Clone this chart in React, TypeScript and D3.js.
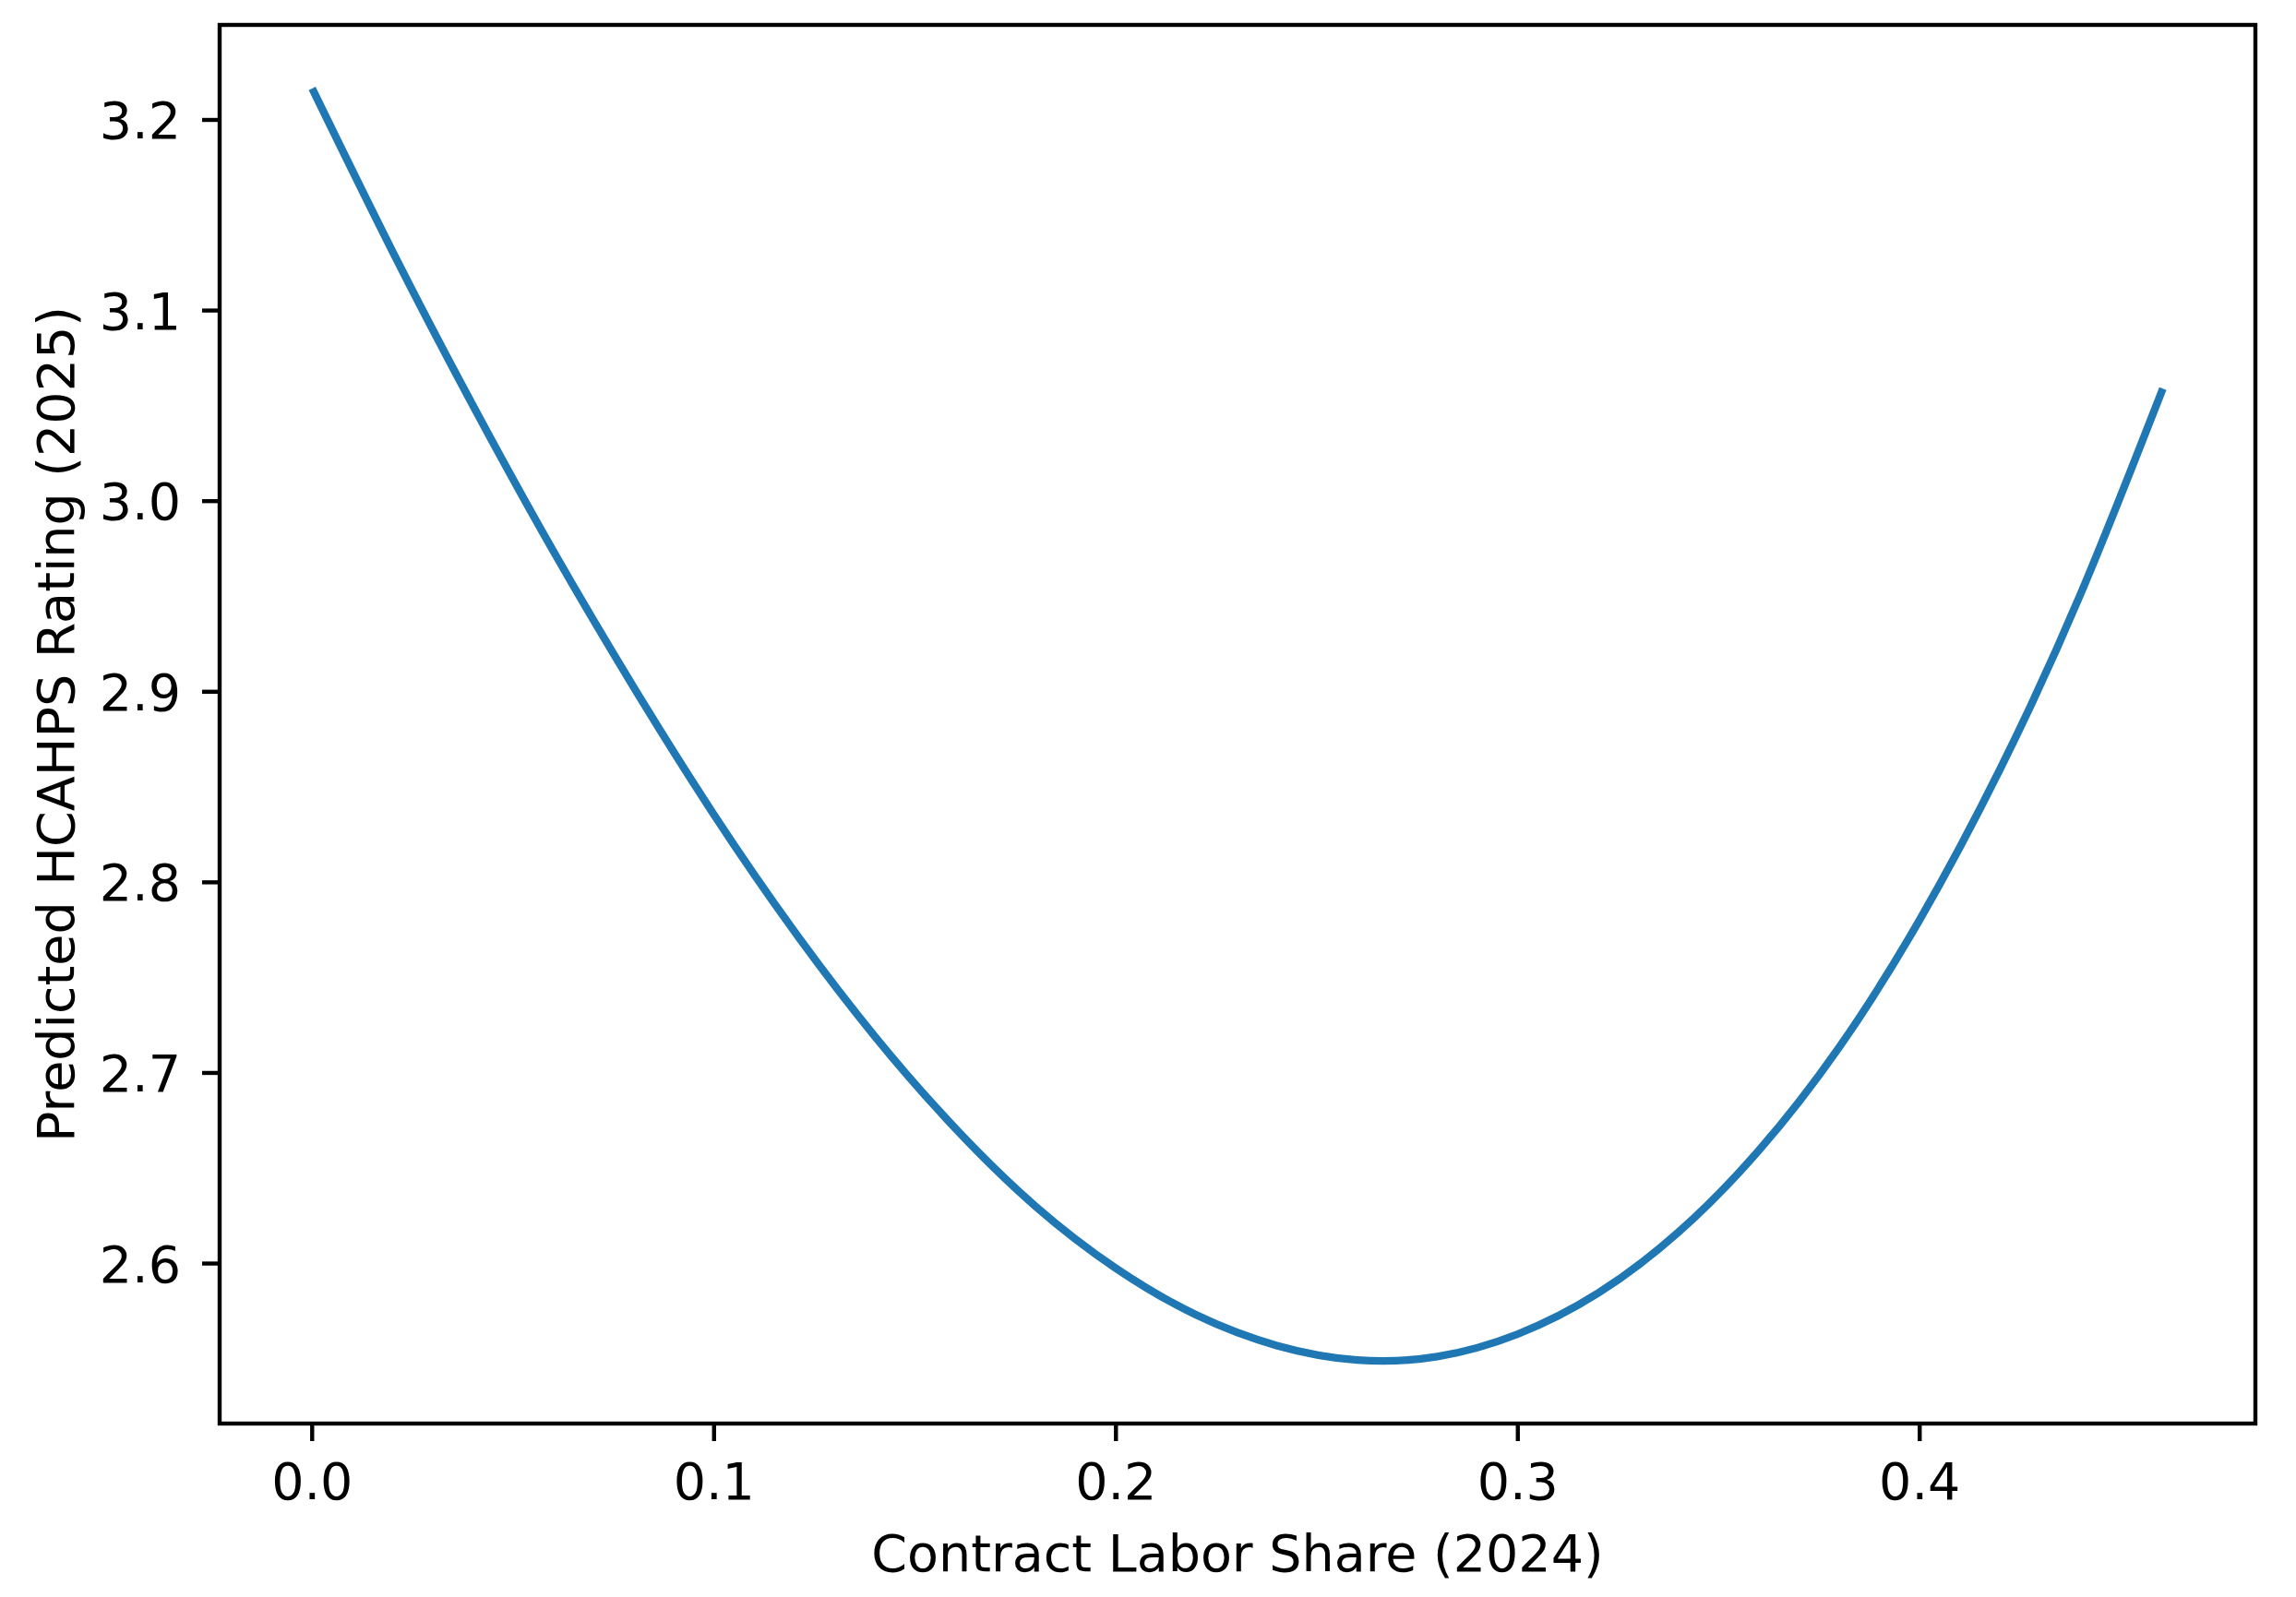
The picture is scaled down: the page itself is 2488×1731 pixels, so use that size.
import * as d3 from "d3";

// Fitted curve, x = contract labor share, y = predicted rating
const shareValues = [
  0, 0.02, 0.04, 0.06, 0.08, 0.1, 0.12, 0.14, 0.16, 0.18, 0.2, 0.22, 0.24, 0.26, 0.28, 0.3, 0.32, 0.34, 0.36,
  0.38, 0.4, 0.42, 0.44, 0.4605
];
const ratingValues = [
  3.2165, 3.131, 3.0502, 2.9738, 2.9024, 2.8354, 2.7742, 2.7192, 2.671, 2.63, 2.5975, 2.573, 2.557, 2.5494,
  2.5512, 2.563, 2.5845, 2.6165, 2.6594, 2.7136, 2.7804, 2.8594, 2.9511, 3.059
];
const xTickValues = [0, 0.1, 0.2, 0.3, 0.4];
const yTickValues = [2.6, 2.7, 2.8, 2.9, 3.0, 3.1, 3.2];
const xTitle = "Contract Labor Share (2024)";
const yTitle = "Predicted HCAHPS Rating (2025)";

const width = 2488;
const height = 1731;
const margin = { top: 27, right: 44, bottom: 188, left: 238 };
const fontFamily = "'DejaVu Sans', sans-serif";
const fontSize = 55.5;
const frameWidth = 4.4;
const tickLength = 19;

export default function App() {
  const points = shareValues.map((share, index) => ({ share, rating: ratingValues[index] }));
  const xMin = d3.min(shareValues) ?? 0;
  const xMax = d3.max(shareValues) ?? 1;
  const yMin = d3.min(ratingValues) ?? 0;
  const yMax = d3.max(ratingValues) ?? 1;
  const xPad = (xMax - xMin) * 0.05;
  const yPad = (yMax - yMin) * 0.05;
  const plotLeft = margin.left;
  const plotRight = width - margin.right;
  const plotTop = margin.top;
  const plotBottom = height - margin.bottom;
  const x = d3.scaleLinear([xMin - xPad, xMax + xPad], [plotLeft, plotRight]);
  const y = d3.scaleLinear([yMin - yPad, yMax + yPad], [plotBottom, plotTop]);
  const line = d3
    .line<(typeof points)[number]>()
    .x((point) => x(point.share))
    .y((point) => y(point.rating))
    .curve(d3.curveNatural);
  const format = d3.format(".1f");

  return (
    <svg
      width={width}
      height={height}
      viewBox={`0 0 ${width} ${height}`}
      style={{ position: "absolute", left: 0, top: 0, background: "#fff" }}
      fontFamily={fontFamily}
    >
      <rect x="0" y="0" width={width} height={height} fill="#fff" />
      <path d={line(points) ?? undefined} fill="none" stroke="#1f77b4" strokeWidth="8.3" strokeLinecap="butt" />
      <rect
        x={plotLeft}
        y={plotTop}
        width={plotRight - plotLeft}
        height={plotBottom - plotTop}
        fill="none"
        stroke="#000"
        strokeWidth={frameWidth}
      />
      {xTickValues.map((tick) => (
        <g key={`x-${tick}`}>
          <line x1={x(tick)} x2={x(tick)} y1={plotBottom} y2={plotBottom + tickLength} stroke="#000" strokeWidth={frameWidth} />
          <text x={x(tick)} y={1625} textAnchor="middle" fontSize={fontSize} fill="#000">
            {format(tick)}
          </text>
        </g>
      ))}
      {yTickValues.map((tick) => (
        <g key={`y-${tick}`}>
          <line x1={plotLeft - tickLength} x2={plotLeft} y1={y(tick)} y2={y(tick)} stroke="#000" strokeWidth={frameWidth} />
          <text x={plotLeft - tickLength - 23} y={y(tick) + 20} textAnchor="end" fontSize={fontSize} fill="#000">
            {format(tick)}
          </text>
        </g>
      ))}
      <text x={(plotLeft + plotRight) / 2} y={1703} textAnchor="middle" fontSize={fontSize} fill="#000">
        {xTitle}
      </text>
      <text
        transform={`translate(80, ${(plotTop + plotBottom) / 2}) rotate(-90)`}
        textAnchor="middle"
        fontSize={fontSize}
        fill="#000"
      >
        {yTitle}
      </text>
    </svg>
  );
}
